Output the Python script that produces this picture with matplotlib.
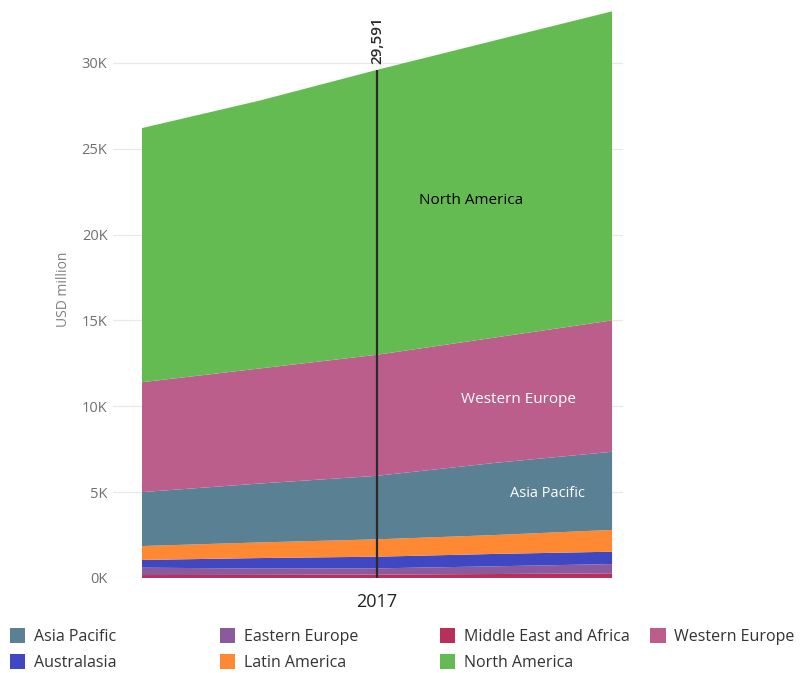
import matplotlib.pyplot as plt
from matplotlib.patches import Patch
from matplotlib.ticker import FuncFormatter

plt.rcParams['font.family'] = ['Open Sans', 'DejaVu Sans']

years = [2015, 2016, 2017, 2018, 2019]

# stacked bottom to top, USD million
middle_east_africa = [170, 180, 200, 230, 270]
eastern_europe = [430, 370, 360, 450, 540]
australasia = [450, 610, 680, 720, 720]
latin_america = [810, 910, 1010, 1100, 1270]
asia_pacific = [3140, 3430, 3700, 4200, 4550]
western_europe = [6400, 6700, 7050, 7300, 7650]
north_america = [14800, 15600, 16591, 17300, 18000]

names = ['Middle East and Africa', 'Eastern Europe', 'Australasia', 'Latin America',
         'Asia Pacific', 'Western Europe', 'North America']
series = [middle_east_africa, eastern_europe, australasia, latin_america,
          asia_pacific, western_europe, north_america]
colors = {'Middle East and Africa': '#b8305a', 'Eastern Europe': '#8a5a9c',
          'Australasia': '#3f48c2', 'Latin America': '#ff8833',
          'Asia Pacific': '#5a8094', 'Western Europe': '#bc5e8c',
          'North America': '#64bb52'}

fig = plt.figure(figsize=(8.04, 6.73), dpi=100)
ax = fig.add_axes([0.1405, 0.1412, 0.6345, 0.8588])

ax.stackplot(years, *series, colors=[colors[n] for n in names], linewidth=0)

totals = [sum(v) for v in zip(*series)]
mark = years.index(2017)
ax.vlines(2017, 0, totals[mark], color='#2a2a2a', lw=1.6, zorder=3)
ax.text(2017, totals[mark] + 350, f'{totals[mark]:,}', rotation=90, ha='center',
        va='bottom', fontsize=11, color='#2a2a2a', fontweight='semibold')

# in-area labels near the right edge
base = [0] * len(years)
for v in series[:4]:
    base = [b + x for b, x in zip(base, v)]
ap_mid = base[-1] + asia_pacific[-1] * 0.47
we_mid = base[-1] + asia_pacific[-1] + western_europe[-1] * 0.4
ax.text(2018.45, ap_mid, 'Asia Pacific', color='white', fontsize=10.5, ha='center', va='center')
ax.text(2018.2, we_mid, 'Western Europe', color='white', fontsize=11, ha='center', va='center')
ax.text(2017.8, 22000, 'North America', color='black', fontsize=11, ha='center', va='center')

ax.set_xlim(2015 - 0.247, 2019 + 0.094)
ax.set_ylim(0, 33660)
ax.set_xticks([2017])
ax.set_xticklabels(['2017'], fontsize=13, color='#222222')
ax.set_yticks(range(0, 30001, 5000))
ax.yaxis.set_major_formatter(FuncFormatter(lambda v, p: f'{int(v / 1000)}K'))
ax.tick_params(axis='y', length=0, labelsize=10.5, labelcolor='#707070', pad=4)
ax.tick_params(axis='x', length=0, pad=11)
ax.set_ylabel('USD million', fontsize=10, color='#808080', labelpad=8)
ax.grid(axis='y', color='#e8e8e8', lw=0.9)
ax.set_axisbelow(True)
for s in ax.spines.values():
    s.set_visible(False)

# legend laid out row by row in four columns
legend_cols = [['Asia Pacific', 'Australasia'], ['Eastern Europe', 'Latin America'],
               ['Middle East and Africa', 'North America'], ['Western Europe']]
col_x = [0.008, 0.27, 0.543, 0.805]
for cx, col in zip(col_x, legend_cols):
    handles = [Patch(facecolor=colors[n], label=n) for n in col]
    fig.legend(handles=handles, loc='upper left', bbox_to_anchor=(cx, 0.071),
               frameon=False, fontsize=11.5, handlelength=0.95, handleheight=1.0,
               handletextpad=0.55, labelspacing=0.58, borderaxespad=0, borderpad=0.2,
               labelcolor='#333333')

fig.savefig('out.png', dpi=100)
